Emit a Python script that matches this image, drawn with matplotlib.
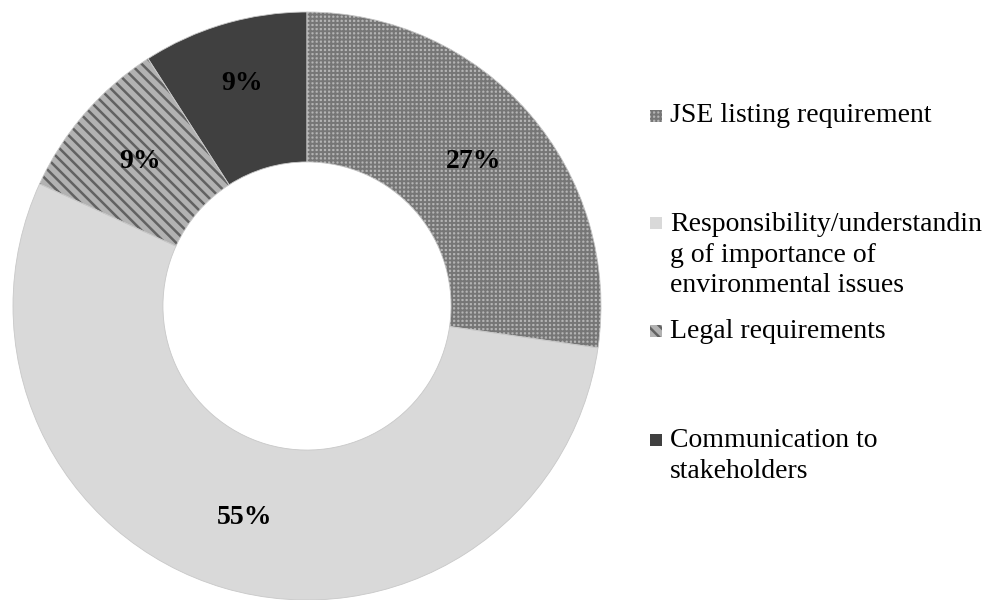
import numpy as np
import matplotlib
matplotlib.use("Agg")
import matplotlib.pyplot as plt
from matplotlib.patches import Rectangle

plt.rcParams['font.family'] = ['Liberation Serif', 'DejaVu Serif']

# Reasons for environmental reporting (share of respondents)
categories = ['JSE listing requirement',
              'Responsibility/understandin\ng of importance of\nenvironmental issues',
              'Legal requirements',
              'Communication to\nstakeholders']
counts = [3, 6, 1, 1]

face_colors = ['#b4b4b4', '#d9d9d9', '#b2b2b2', '#404040']
hatch_colors = ['#767676', '#d9d9d9', '#626262', '#404040']
hatches = ['++++', None, '\\\\\\', None]
hatch_widths = [1.4, 1.0, 1.8, 1.0]
label_dist = [0.75, 0.75, 0.75, 0.79]

fig = plt.figure(figsize=(9.88, 6), dpi=100)
W, H = 988, 600
cx, cy, R = 307, 306, 294
ax = fig.add_axes([(cx - R) / W, (H - cy - R) / H, 2 * R / W, 2 * R / H])


def pct_label(p):
    return f'{p:.0f}%'


wedges, texts, autotexts = ax.pie(
    counts, startangle=90, counterclock=False, radius=1.0,
    autopct=pct_label, pctdistance=0.75,
    wedgeprops=dict(width=0.51, linewidth=0),
    textprops=dict(fontsize=20, fontweight='bold', color='black'))

for w, fc, hc, h, hw in zip(wedges, face_colors, hatch_colors, hatches, hatch_widths):
    w.set_facecolor(fc)
    w.set_edgecolor(hc)
    w.set_linewidth(0)
    if h:
        w.set_hatch(h)
        if hasattr(w, 'set_hatch_linewidth'):
            w.set_hatch_linewidth(hw)

# thin light borders between the slices
ax.pie(counts, startangle=90, counterclock=False, radius=1.0,
       wedgeprops=dict(width=0.51, fill=False, edgecolor='#c8c8c8', linewidth=0.6))

# push the small dark slice's label a little further out
for w, t, d in zip(wedges, autotexts, label_dist):
    mid = np.deg2rad((w.theta1 + w.theta2) / 2)
    t.set_position((d * np.cos(mid), d * np.sin(mid)))
    t.set_zorder(5)

ax.set_xlim(-1, 1)
ax.set_ylim(-1, 1)
ax.set_aspect('equal')
ax.axis('off')

# legend drawn by hand so the wrapped entries sit like the original layout
legend_y = [116, 255, 331, 456]
line_h = 32
marker_x = 650
text_x = 670
for i, (lab, y) in enumerate(zip(categories, legend_y)):
    n_lines = lab.count('\n') + 1
    first_line_y = y - (n_lines - 1) * line_h / 2
    sq = Rectangle((marker_x / W, 1 - (first_line_y + 6) / H), 12 / W, 12 / H,
                   transform=fig.transFigure, facecolor=face_colors[i],
                   edgecolor=hatch_colors[i], linewidth=0)
    if hatches[i]:
        sq.set_hatch(hatches[i])
        if hasattr(sq, 'set_hatch_linewidth'):
            sq.set_hatch_linewidth(hatch_widths[i])
    fig.patches.append(sq)
    fig.text(text_x / W, 1 - y / H, lab, fontsize=20, ha='left', va='center',
             linespacing=1.3)

fig.savefig('out.png', dpi=100)
